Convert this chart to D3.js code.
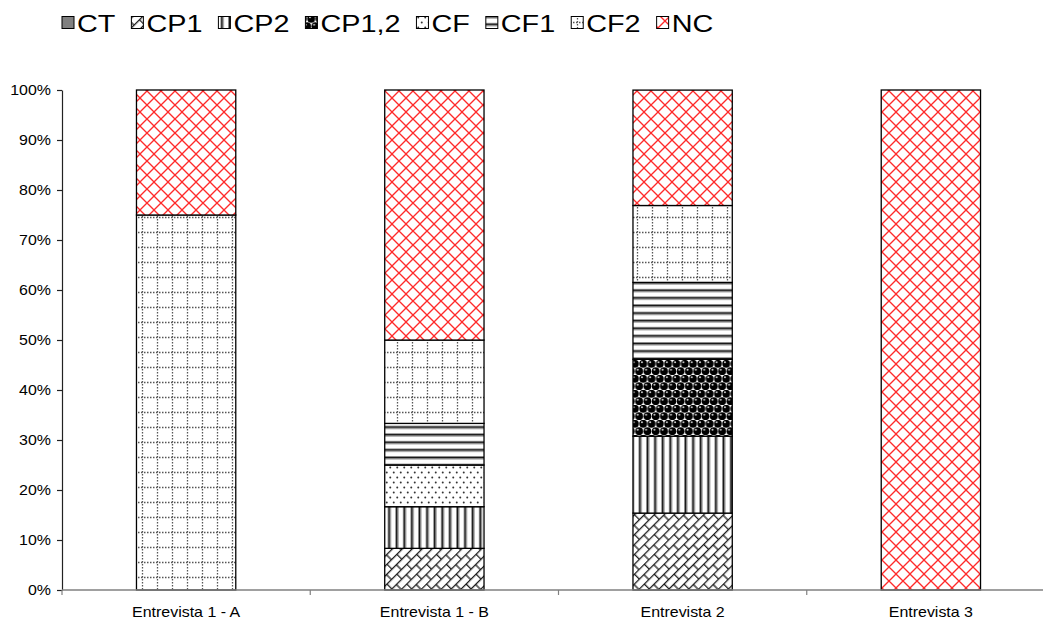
<!DOCTYPE html>
<html>
<head>
<meta charset="utf-8">
<script src="https://cdn.jsdelivr.net/npm/d3@7"></script>
<style>
  html, body { margin: 0; padding: 0; background: #fff; }
  svg { display: block; font-family: "Liberation Sans", Arial, sans-serif; }
</style>
</head>
<body>
<svg id="chart" width="1043" height="621"></svg>
<script>
// Interview categories and coding series (percent of each interview)
const categories = ["Entrevista 1 - A", "Entrevista 1 - B", "Entrevista 2", "Entrevista 3"];
const seriesNames = ["CT", "CP1", "CP2", "CP1,2", "CF", "CF1", "CF2", "NC"];
const valCT   = [0, 0, 0, 0];
const valCP1  = [0, 8.33, 15.38, 0];
const valCP2  = [0, 8.33, 15.38, 0];
const valCP12 = [0, 0, 15.38, 0];
const valCF   = [0, 8.33, 0, 0];
const valCF1  = [0, 8.33, 15.38, 0];
const valCF2  = [75, 16.67, 15.38, 0];
const valNC   = [25, 50.01, 23.08, 100];
const yTicks  = [0, 10, 20, 30, 40, 50, 60, 70, 80, 90, 100];

const seriesValues = [valCT, valCP1, valCP2, valCP12, valCF, valCF1, valCF2, valNC];
const rows = categories.map((c, i) => {
  const r = { cat: c };
  seriesNames.forEach((s, k) => { r[s] = seriesValues[k][i]; });
  return r;
});

const svg = d3.select("#chart");
const W = 1043, H = 621;
const plot = { left: 62, right: 1055, top: 90, bottom: 590 };
const TEXT_SX = 1.14;   // horizontal stretch of axis text
const LEGEND_SX = 1.2;  // horizontal stretch of legend text

const x = d3.scaleBand().domain(categories).range([plot.left, plot.right])
  .paddingInner(0.6).paddingOuter(0.3);
const xEdges = d3.scaleBand().domain(categories).range([plot.left, plot.right]).padding(0);
const y = d3.scaleLinear().domain([0, 100]).range([plot.bottom, plot.top]);

// ---------- fill patterns ----------
const defs = svg.append("defs");
function pat(id, w, h, extra) {
  const p = defs.append("pattern").attr("id", id)
    .attr("patternUnits", "userSpaceOnUse").attr("width", w).attr("height", h);
  if (extra) p.attr("patternTransform", extra);
  p.append("rect").attr("width", w).attr("height", h).attr("fill", "#fff");
  return p;
}

// CT: solid grey
defs.append("pattern").attr("id", "p-CT").attr("patternUnits", "userSpaceOnUse")
  .attr("width", 4).attr("height", 4)
  .append("rect").attr("width", 4).attr("height", 4).attr("fill", "#808080");

// CP1: diagonal brick
{
  const w = 14, h = 7;
  const p = pat("p-CP1", w, 2 * h, "rotate(-45)");
  const g = p.append("g").attr("stroke", "#1a1a1a").attr("stroke-width", 1.3).attr("fill", "none");
  g.append("line").attr("x1", 0).attr("x2", w).attr("y1", 0.6).attr("y2", 0.6);
  g.append("line").attr("x1", 0).attr("x2", w).attr("y1", h + 0.6).attr("y2", h + 0.6);
  g.append("line").attr("x1", 0.6).attr("x2", 0.6).attr("y1", 0).attr("y2", h);
  g.append("line").attr("x1", w / 2).attr("x2", w / 2).attr("y1", h).attr("y2", 2 * h);
}

// CP2: vertical lines
{
  const p = pat("p-CP2", 7.6, 8);
  p.append("rect").attr("x", 0.5).attr("y", 0).attr("width", 2).attr("height", 8).attr("fill", "#111");
  p.append("rect").attr("x", 2.5).attr("y", 0).attr("width", 1).attr("height", 8).attr("fill", "#999");
}

// CP1,2: shaded spheres
{
  const w = 8.3, h = 15;
  const p = pat("p-CP12", w, h);
  const balls = [[w / 2, h / 4], [0, 3 * h / 4], [w, 3 * h / 4]];
  balls.forEach(([cx, cy]) => {
    p.append("circle").attr("cx", cx).attr("cy", cy).attr("r", 3.9).attr("fill", "#000");
    p.append("circle").attr("cx", cx - 1.3).attr("cy", cy - 1.5).attr("r", 1).attr("fill", "#ccc");
  });
}

// CF: staggered dots
{
  const p = pat("p-CF", 7, 10);
  p.append("circle").attr("cx", 1.75).attr("cy", 2.5).attr("r", 1).attr("fill", "#333");
  p.append("circle").attr("cx", 5.25).attr("cy", 7.5).attr("r", 1).attr("fill", "#333");
}

// CF1: horizontal lines
{
  const p = pat("p-CF1", 8, 7.6);
  p.append("rect").attr("x", 0).attr("y", 0.5).attr("width", 8).attr("height", 2).attr("fill", "#111");
  p.append("rect").attr("x", 0).attr("y", 2.5).attr("width", 8).attr("height", 1).attr("fill", "#999");
}

// CF2: dotted grid
{
  const p = pat("p-CF2", 15, 15);
  const g = p.append("g").attr("stroke", "#555").attr("stroke-width", 1.3)
    .attr("stroke-dasharray", "1.5,1.5");
  g.append("line").attr("x1", 0).attr("x2", 15).attr("y1", 7.5).attr("y2", 7.5);
  g.append("line").attr("x1", 7.5).attr("x2", 7.5).attr("y1", 0).attr("y2", 15);
}

// NC: red diagonal crosshatch
{
  const p = pat("p-NC", 14, 14);
  const g = p.append("g").attr("stroke", "#ff2a2a").attr("stroke-width", 1.3);
  g.append("line").attr("x1", 0).attr("y1", 0).attr("x2", 14).attr("y2", 14);
  g.append("line").attr("x1", 14).attr("y1", 0).attr("x2", 0).attr("y2", 14);
  g.append("line").attr("x1", -1).attr("y1", 13).attr("x2", 1).attr("y2", 15);
  g.append("line").attr("x1", 13).attr("y1", -1).attr("x2", 15).attr("y2", 1);
  g.append("line").attr("x1", 13).attr("y1", 15).attr("x2", 15).attr("y2", 13);
  g.append("line").attr("x1", -1).attr("y1", 1).attr("x2", 1).attr("y2", -1);
}

const patId = { "CT": "p-CT", "CP1": "p-CP1", "CP2": "p-CP2", "CP1,2": "p-CP12",
  "CF": "p-CF", "CF1": "p-CF1", "CF2": "p-CF2", "NC": "p-NC" };

// ---------- stacked bars ----------
const stack = d3.stack().keys(seriesNames)(rows);
const layers = svg.append("g").selectAll("g").data(stack).join("g")
  .attr("fill", d => `url(#${patId[d.key]})`);
layers.selectAll("rect").data(d => d.filter(p => p[1] - p[0] > 0)).join("rect")
  .attr("x", d => x(d.data.cat))
  .attr("width", x.bandwidth())
  .attr("y", d => y(d[1]))
  .attr("height", d => y(d[0]) - y(d[1]))
  .attr("stroke", "#000")
  .attr("stroke-width", 1.3);

// ---------- axes ----------
const yAxis = svg.append("g").attr("transform", `translate(${plot.left},0)`)
  .call(d3.axisLeft(y).tickValues(yTicks).tickFormat(d => d + "%").tickSize(5).tickSizeOuter(0).tickPadding(6));
yAxis.select(".domain").attr("stroke", "#222").attr("stroke-width", 1.2);
yAxis.selectAll(".tick line").attr("stroke", "#222").attr("stroke-width", 1.2);
yAxis.selectAll(".tick text")
  .attr("font-size", 14).attr("fill", "#000")
  .attr("font-family", "Liberation Sans, Arial, sans-serif")
  .each(function () {
    const t = d3.select(this);
    const xx = +t.attr("x");
    t.attr("x", xx / TEXT_SX).attr("transform", `scale(${TEXT_SX},1)`);
  });

const xAxisG = svg.append("g");
xAxisG.append("line")
  .attr("x1", plot.left).attr("x2", W).attr("y1", plot.bottom).attr("y2", plot.bottom)
  .attr("stroke", "#808080").attr("stroke-width", 1.5);
const edges = categories.map(c => xEdges(c)).concat([xEdges.range()[1]]);
xAxisG.selectAll("line.tk").data(edges).join("line").attr("class", "tk")
  .attr("x1", d => d).attr("x2", d => d)
  .attr("y1", plot.bottom).attr("y2", plot.bottom + 5)
  .attr("stroke", "#808080").attr("stroke-width", 1.2);
xAxisG.selectAll("text").data(categories).join("text")
  .attr("transform", d => `translate(${x(d) + x.bandwidth() / 2},617) scale(${TEXT_SX},1)`)
  .attr("text-anchor", "middle").attr("font-size", 14).attr("fill", "#000")
  .text(d => d);

// ---------- legend ----------
const legend = svg.append("g");
const LF = 24, iconS = 12, iconGap = 3, itemGap = 16;
let lx = 62;
seriesNames.forEach(name => {
  const g = legend.append("g");
  g.append("rect").attr("x", lx).attr("y", 16.5).attr("width", iconS).attr("height", iconS)
    .attr("fill", `url(#${patId[name]})`).attr("stroke", "#000").attr("stroke-width", 1);
  const tx = lx + iconS + iconGap;
  const t = g.append("text")
    .attr("transform", `translate(${tx},31.5) scale(${LEGEND_SX},1)`)
    .attr("font-size", LF).attr("fill", "#000").text(name);
  const w = t.node().getComputedTextLength() * LEGEND_SX;
  lx = tx + w + itemGap;
});
</script>
</body>
</html>
